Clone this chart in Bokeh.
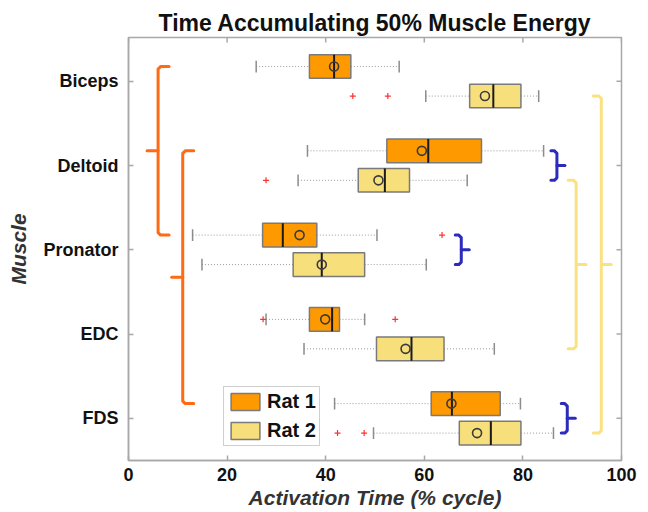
from bokeh.plotting import figure
from bokeh.models import Range1d, FixedTicker
from bokeh.embed import file_html
from bokeh.resources import INLINE

# ---------------- data ----------------
muscles = ["Biceps", "Deltoid", "Pronator", "EDC", "FDS"]

rat1_wlo = [25.9, 36.3, 13.0, 27.9, 41.8]
rat1_q1 = [36.7, 52.4, 27.2, 36.7, 61.4]
rat1_med = [41.7, 60.8, 31.3, 41.3, 65.6]
rat1_q3 = [45.1, 71.6, 38.2, 42.8, 75.4]
rat1_whi = [54.9, 84.2, 50.4, 47.9, 79.5]
rat1_mean = [41.7, 59.5, 34.7, 39.9, 65.5]
rat1_out_muscle = ["Pronator", "EDC", "EDC"]
rat1_out_val = [63.6, 27.3, 54.1]

rat2_wlo = [60.3, 34.4, 14.9, 35.6, 49.7]
rat2_q1 = [69.2, 46.6, 33.4, 50.3, 67.1]
rat2_med = [74.0, 52.0, 39.2, 57.4, 73.5]
rat2_q3 = [79.6, 57.0, 47.9, 64.0, 79.6]
rat2_whi = [83.2, 68.7, 60.4, 74.2, 86.2]
rat2_mean = [72.3, 50.7, 39.2, 56.2, 70.7]
rat2_out_muscle = ["Biceps", "Biceps", "Deltoid", "FDS", "FDS"]
rat2_out_val = [45.5, 52.6, 27.9, 42.4, 47.8]

# significance braces: (muscle A, rat A, muscle B, rat B, x of brace, side, group)
comparisons = [
    ("Biceps", 1, "Pronator", 1, 6.0, "left", "orange"),
    ("Deltoid", 1, "FDS", 1, 11.0, "left", "orange"),
    ("Deltoid", 1, "Deltoid", 2, 86.9, "right", "blue"),
    ("Pronator", 1, "Pronator", 2, 67.5, "right", "blue"),
    ("FDS", 1, "FDS", 2, 89.0, "right", "blue"),
    ("Biceps", 2, "FDS", 2, 95.9, "right", "yellow"),
    ("Deltoid", 2, "EDC", 2, 90.8, "right", "yellow"),
]

x_ticks = [0, 20, 40, 60, 80, 100]

# ---------------- styles ----------------
FONT = "Liberation Sans"
C_RAT1 = "#FF9900"
C_RAT2 = "#F7DF7C"
EDGE = "#7a7a7a"
AXC = "#a8a8a8"
BRACE_COLORS = {"orange": "#FF6A14", "blue": "#2B2BBE", "yellow": "#FAE283"}
BRACE_HOOK_PX = {"orange": 11, "blue": 6, "yellow": 8}
BRACE_TIP_PX = {"orange": 11, "blue": 8, "yellow": 10}
OFFSET = 0.175
BOX_H = 0.28
CAP_H = 0.07
X0, X1 = 0, 100
Y_BOTTOM, Y_TOP = 4.50, -0.52
TICK_PX = 5

W, H = 640, 512
FRAME_W = 493.0
FRAME_H = 423.0
p = figure(width=W, height=H, output_backend="svg", toolbar_location=None,
           x_range=Range1d(X0, X1), y_range=Range1d(Y_BOTTOM, Y_TOP),
           min_border_left=128, min_border_right=W - 128 - int(FRAME_W),
           min_border_top=37, min_border_bottom=H - 37 - int(FRAME_H))
p.title.text = "Time Accumulating 50% Muscle Energy"
p.title.text_font = FONT
p.title.text_font_size = "23px"
p.title.text_font_style = "bold"
p.title.align = "center"
p.title.standoff = 4
p.title.text_color = "#111111"
p.xgrid.visible = False
p.ygrid.visible = False
p.outline_line_color = AXC
p.outline_line_width = 1.5

idx = {m: i for i, m in enumerate(muscles)}
px_x = FRAME_W / (X1 - X0)
px_y = FRAME_H / (Y_BOTTOM - Y_TOP)


def draw_rat(wlo, q1, med, q3, whi, mean, out_m, out_v, off, color, label):
    ys = [i + off for i in range(len(muscles))]
    p.segment(x0=wlo, y0=ys, x1=q1, y1=ys, line_color="#9a9a9a", line_width=1, line_dash="1 2")
    p.segment(x0=q3, y0=ys, x1=whi, y1=ys, line_color="#9a9a9a", line_width=1, line_dash="1 2")
    for xs in (wlo, whi):
        p.segment(x0=xs, y0=[y - CAP_H for y in ys], x1=xs, y1=[y + CAP_H for y in ys],
                  line_color="#8c8c8c", line_width=1.5)
    p.hbar(y=ys, left=q1, right=q3, height=BOX_H, fill_color=color, line_color=EDGE,
           line_width=1.5, legend_label=label)
    p.segment(x0=med, y0=[y - BOX_H / 2 for y in ys], x1=med, y1=[y + BOX_H / 2 for y in ys],
              line_color="#1a1a1a", line_width=2)
    p.scatter(x=mean, y=ys, marker="circle", size=9, fill_color=None,
              line_color="#3a3a3a", line_width=1.6)
    oy = [idx[m] + off for m in out_m]
    p.scatter(x=out_v, y=oy, marker="cross", size=6, line_color="#FF3030", line_width=1.2)


draw_rat(rat1_wlo, rat1_q1, rat1_med, rat1_q3, rat1_whi, rat1_mean,
         rat1_out_muscle, rat1_out_val, -OFFSET, C_RAT1, "Rat 1")
draw_rat(rat2_wlo, rat2_q1, rat2_med, rat2_q3, rat2_whi, rat2_mean,
         rat2_out_muscle, rat2_out_val, OFFSET, C_RAT2, "Rat 2")

# braces
for ma, ra, mb, rb, xv, side, grp in comparisons:
    ya = idx[ma] + (-OFFSET if ra == 1 else OFFSET)
    yb = idx[mb] + (-OFFSET if rb == 1 else OFFSET)
    ym = (ya + yb) / 2
    sgn = 1 if side == "right" else -1
    hook = BRACE_HOOK_PX[grp] / px_x
    tip = BRACE_TIP_PX[grp] / px_x
    cx = 2.5 / px_x
    cy = 2.5 / px_y
    xs = [xv - sgn * hook, xv - sgn * cx, xv, xv, xv - sgn * cx, xv - sgn * hook]
    yy = [ya, ya, ya + cy, yb - cy, yb, yb]
    p.multi_line(xs=[xs, [xv, xv + sgn * tip]], ys=[yy, [ym, ym]],
                 line_color=BRACE_COLORS[grp], line_width=3,
                 line_join="round", line_cap="round")

# inward ticks on the top and right frame edges (mirroring the bottom/left ticks)
y_ticks = list(range(len(muscles)))
p.segment(x0=x_ticks, y0=[Y_TOP] * len(x_ticks), x1=x_ticks,
          y1=[Y_TOP + TICK_PX / px_y] * len(x_ticks), line_color=AXC, line_width=1.5)
p.segment(x0=[X1] * len(y_ticks), y0=y_ticks, x1=[X1 - TICK_PX / px_x] * len(y_ticks),
          y1=y_ticks, line_color=AXC, line_width=1.5)


def style_axis(ax):
    ax.axis_line_color = AXC
    ax.axis_line_width = 1.5
    ax.major_tick_line_color = AXC
    ax.major_tick_line_width = 1.5
    ax.major_tick_in = TICK_PX
    ax.major_tick_out = 0
    ax.minor_tick_line_color = None
    ax.major_label_text_font = FONT
    ax.major_label_text_font_style = "bold"
    ax.major_label_text_color = "#111111"


xa = p.xaxis[0]
xa.ticker = FixedTicker(ticks=x_ticks)
style_axis(xa)
xa.major_label_text_font_size = "18px"
xa.major_label_standoff = 7
xa.axis_label = "Activation Time (% cycle)"
xa.axis_label_text_font = FONT
xa.axis_label_text_font_size = "21px"
xa.axis_label_text_font_style = "bold italic"
xa.axis_label_text_color = "#333333"
xa.axis_label_standoff = 2

ya_ = p.yaxis[0]
ya_.ticker = FixedTicker(ticks=y_ticks)
ya_.major_label_overrides = {i: m for i, m in enumerate(muscles)}
style_axis(ya_)
ya_.major_label_text_font_size = "18px"
ya_.major_label_standoff = 10
ya_.axis_label = "Muscle"
ya_.axis_label_text_font = FONT
ya_.axis_label_text_font_size = "21px"
ya_.axis_label_text_font_style = "bold italic"
ya_.axis_label_text_color = "#333333"
ya_.axis_label_standoff = 10

lg = p.legend[0]
lg.location = (95, 14)
lg.border_line_color = "#a0a0a0"
lg.border_line_width = 1.5
lg.padding = 3
lg.spacing = 6
lg.margin = 0
lg.glyph_width = 36
lg.glyph_height = 21
lg.label_height = 21
lg.label_standoff = 4
lg.label_text_font = FONT
lg.label_text_font_size = "20px"
lg.label_text_font_style = "bold"
lg.label_text_color = "#111111"
lg.background_fill_alpha = 1.0

open("out.html", "w").write(file_html(p, INLINE))
